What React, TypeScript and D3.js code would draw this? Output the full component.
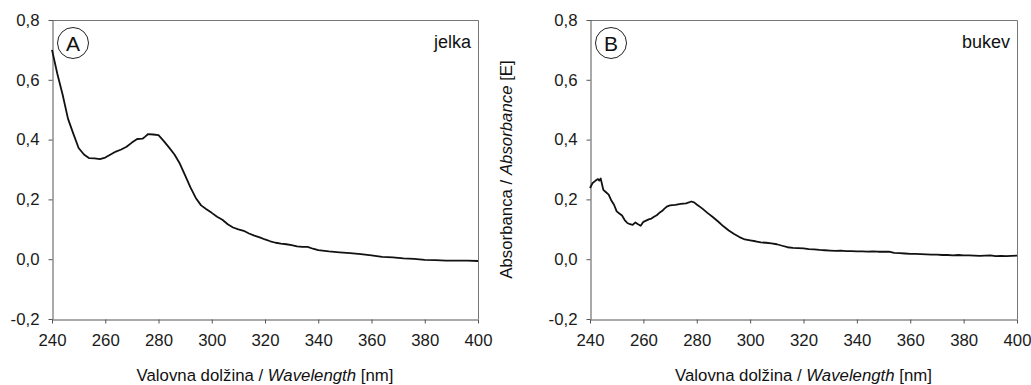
import React, { useEffect, useRef } from "react";
import * as d3 from "d3";

// jelka (spruce) spectrum
const wavelengthsA = [
  240, 242, 244, 246, 248, 250, 252, 254, 256, 258, 260, 262, 264, 266, 268, 270, 272, 274, 275, 276, 278, 280,
  282, 284, 286, 288, 290, 292, 294, 296, 298, 300, 302, 304, 306, 308, 310, 312, 314, 316, 318, 320, 322, 324,
  326, 328, 330, 332, 334, 336, 338, 340, 344, 348, 352, 356, 360, 364, 368, 372, 376, 380, 384, 388, 392, 396, 400,
];
const absorbanceA = [
  0.70, 0.62, 0.55, 0.47, 0.42, 0.372, 0.35, 0.338, 0.337, 0.335, 0.34, 0.35, 0.36, 0.367, 0.376, 0.39, 0.402, 0.403,
  0.41, 0.418, 0.417, 0.415, 0.395, 0.373, 0.35, 0.32, 0.28, 0.24, 0.205, 0.18, 0.167, 0.155, 0.142, 0.132, 0.117,
  0.106, 0.1, 0.095, 0.086, 0.079, 0.073, 0.066, 0.06, 0.055, 0.052, 0.05, 0.047, 0.043, 0.041, 0.041, 0.035, 0.03,
  0.026, 0.023, 0.02, 0.017, 0.013, 0.008, 0.006, 0.003, 0.001, -0.002, -0.003, -0.005, -0.005, -0.005, -0.006,
];

// bukev (beech) spectrum
const wavelengthsB = [
  240, 241, 242, 243, 243.5, 244, 245, 246, 247, 248, 249, 250, 251, 252, 253, 254, 255, 256, 257, 258, 259, 260,
  261, 262, 263, 264, 265, 266, 267, 268, 269, 270, 272, 274, 276, 278, 279, 280, 282, 284, 286, 288, 290, 292,
  294, 296, 298, 300, 302, 304, 306, 308, 310, 312, 314, 316, 318, 320, 322, 324, 326, 328, 330, 332, 334, 336,
  338, 340, 342, 344, 346, 348, 350, 352, 354, 356, 358, 360, 362, 364, 366, 368, 370, 372, 374, 376, 378, 380,
  382, 384, 386, 388, 390, 392, 394, 396, 398, 400,
];
const absorbanceB = [
  0.238, 0.255, 0.262, 0.268, 0.263, 0.27, 0.232, 0.224, 0.216, 0.196, 0.182, 0.16, 0.153, 0.146, 0.131, 0.121,
  0.117, 0.115, 0.123, 0.117, 0.112, 0.125, 0.129, 0.133, 0.136, 0.142, 0.147, 0.155, 0.161, 0.17, 0.177, 0.18,
  0.182, 0.185, 0.187, 0.193, 0.19, 0.183, 0.17, 0.155, 0.141, 0.126, 0.11, 0.096, 0.084, 0.074, 0.066, 0.063,
  0.06, 0.056, 0.055, 0.053, 0.05, 0.045, 0.04, 0.038, 0.037, 0.036, 0.034, 0.033, 0.031, 0.03, 0.029, 0.028,
  0.029, 0.027, 0.027, 0.026, 0.026, 0.025, 0.026, 0.025, 0.025, 0.025, 0.021, 0.02, 0.019, 0.018, 0.018, 0.017,
  0.016, 0.015, 0.015, 0.014, 0.014, 0.013, 0.014, 0.013, 0.013, 0.012, 0.011, 0.012, 0.013, 0.01, 0.011, 0.01,
  0.011, 0.012,
];

const xTicks = [240, 260, 280, 300, 320, 340, 360, 380, 400];
const yTicks = [-0.2, 0, 0.2, 0.4, 0.6, 0.8];

const panels = [
  { letter: "A", name: "jelka", left: 52, right: 478, wl: wavelengthsA, abs: absorbanceA, yTitle: false },
  { letter: "B", name: "bukev", left: 590, right: 1017, wl: wavelengthsB, abs: absorbanceB, yTitle: true },
];

const FONT = "'Liberation Sans', Arial, sans-serif";
const AXIS = "#555";

export default function App() {
  const ref = useRef<SVGSVGElement>(null);

  useEffect(() => {
    const svg = d3.select(ref.current);
    svg.selectAll("*").remove();

    const top = 20;
    const bottom = 319;
    const fmt = (v: number) => d3.format(".1f")(v).replace(".", ",").replace("−", "-");

    panels.forEach(p => {
      const x = d3.scaleLinear().domain([240, 400]).range([p.left, p.right]);
      const y = d3.scaleLinear().domain([-0.2, 0.8]).range([bottom, top]);
      const g = svg.append("g");

      // frame top / right
      g.append("path")
        .attr("d", `M${p.left},${top + 0.5}H${p.right + 0.5}V${bottom}`)
        .attr("fill", "none")
        .attr("stroke", "#777")
        .attr("stroke-width", 1);

      const yAxis = g.append("g")
        .attr("transform", `translate(${p.left + 0.5},0)`)
        .call(d3.axisLeft(y).tickValues(yTicks).tickSize(4).tickSizeOuter(0).tickPadding(9).tickFormat(d => fmt(+d)));
      const xAxis = g.append("g")
        .attr("transform", `translate(0,${bottom + 0.5})`)
        .call(d3.axisBottom(x).tickValues(xTicks).tickSize(4).tickSizeOuter(0).tickPadding(11).tickFormat(d => String(d)));

      [yAxis, xAxis].forEach(a => {
        a.select(".domain").attr("stroke", AXIS);
        a.selectAll(".tick line").attr("stroke", AXIS);
        a.selectAll("text")
          .attr("fill", "#1a1a1a")
          .style("font-family", FONT)
          .style("font-size", "16.8px");
      });

      const line = d3.line<number>()
        .x((_, i) => x(p.wl[i]))
        .y(d => y(d));

      g.append("path")
        .datum(p.abs)
        .attr("d", line)
        .attr("fill", "none")
        .attr("stroke", "#111")
        .attr("stroke-width", 1.8)
        .attr("stroke-linejoin", "round");

      // panel badge
      const cx = p.left + 21;
      g.append("circle")
        .attr("cx", cx)
        .attr("cy", 43)
        .attr("r", 15.5)
        .attr("fill", "none")
        .attr("stroke", "#222")
        .attr("stroke-width", 1);
      g.append("text")
        .attr("x", cx)
        .attr("y", 50.5)
        .attr("text-anchor", "middle")
        .style("font-family", FONT)
        .style("font-size", "21px")
        .attr("fill", "#111")
        .text(p.letter);

      g.append("text")
        .attr("x", p.right - 7)
        .attr("y", 48)
        .attr("text-anchor", "end")
        .style("font-family", FONT)
        .style("font-size", "18px")
        .attr("fill", "#111")
        .text(p.name);

      const xt = g.append("text")
        .attr("x", (p.left + p.right) / 2)
        .attr("y", 381)
        .attr("text-anchor", "middle")
        .style("font-family", FONT)
        .style("font-size", "16.8px")
        .attr("fill", "#111");
      xt.append("tspan").text("Valovna dolžina / ");
      xt.append("tspan").style("font-style", "italic").text("Wavelength");
      xt.append("tspan").text(" [nm]");

      if (p.yTitle) {
        const yt = g.append("text")
          .attr("transform", `translate(${p.left - 78},${(top + bottom) / 2}) rotate(-90)`)
          .attr("text-anchor", "middle")
          .style("font-family", FONT)
          .style("font-size", "16.8px")
          .attr("fill", "#111");
        yt.append("tspan").text("Absorbanca / ");
        yt.append("tspan").style("font-style", "italic").text("Absorbance");
        yt.append("tspan").text(" [E]");
      }
    });
  }, []);

  return (
    <svg
      ref={ref}
      width={1031}
      height={385}
      style={{ position: "absolute", left: 0, top: 0, background: "#fff", display: "block" }}
    />
  );
}
